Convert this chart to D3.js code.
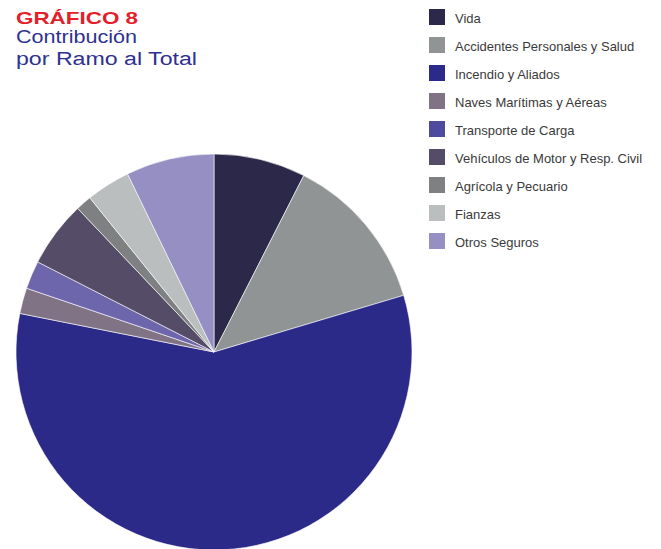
<!DOCTYPE html>
<html><head><meta charset="utf-8">
<script src="https://cdn.jsdelivr.net/npm/d3@7"></script>
<style>body{margin:0;background:#fff;}svg{display:block;}</style>
</head><body>
<svg id="chart" width="661" height="549"></svg>
<script>
const categories = ["Vida","Accidentes Personales y Salud","Incendio y Aliados","Naves Marítimas y Aéreas","Transporte de Carga","Vehículos de Motor y Resp. Civil","Agrícola y Pecuario","Fianzas","Otros Seguros"];
const values = [7.5, 12.9, 57.8, 2.1, 2.3, 5.4, 1.3, 3.6, 7.2];
const pieColors = ["#2c2849","#919494","#2b2a89","#807386","#6e66ad","#554c68","#7f8082","#bbbebf","#958fc3"];
const legendColors = ["#2c2849","#919494","#2b2a89","#807386","#4e4a9d","#554c68","#7f8082","#bbbebf","#958fc3"];
const titleLines = ["GRÁFICO 8","Contribución","por Ramo al Total"];

const svg = d3.select("#chart");
const font = "Liberation Sans, Arial, Helvetica, sans-serif";

// Title
svg.append("text").attr("x",16).attr("y",24).attr("font-family",font).attr("font-weight","bold")
  .attr("font-size",17).attr("fill","#e3202a").attr("textLength",122).attr("lengthAdjust","spacingAndGlyphs").text(titleLines[0]);
svg.append("text").attr("x",16).attr("y",43).attr("font-family",font)
  .attr("font-size",18).attr("fill","#2e3192").attr("textLength",121).attr("lengthAdjust","spacingAndGlyphs").text(titleLines[1]);
svg.append("text").attr("x",16).attr("y",65).attr("font-family",font)
  .attr("font-size",18).attr("fill","#2e3192").attr("textLength",181).attr("lengthAdjust","spacingAndGlyphs").text(titleLines[2]);

// Pie
const cx = 214, cy = 352, r = 198;
const pie = d3.pie().sort(null).value(d => d)(values);
const arc = d3.arc().innerRadius(0).outerRadius(r);
svg.append("g").attr("transform",`translate(${cx},${cy})`)
  .selectAll("path").data(pie).join("path")
  .attr("d",arc).attr("fill",(d,i)=>pieColors[i])
  .attr("stroke","#ffffff").attr("stroke-width",0.6);

// Legend
const lg = svg.append("g").attr("transform","translate(429,9)");
const rows = lg.selectAll("g").data(categories).join("g")
  .attr("transform",(d,i)=>`translate(0,${i*28})`);
rows.append("rect").attr("width",16).attr("height",16).attr("fill",(d,i)=>legendColors[i]);
rows.append("text").attr("x",26).attr("y",14).attr("font-family",font).attr("font-size",13)
  .attr("fill","#3a3a3a").text(d=>d);
</script>
</body></html>
